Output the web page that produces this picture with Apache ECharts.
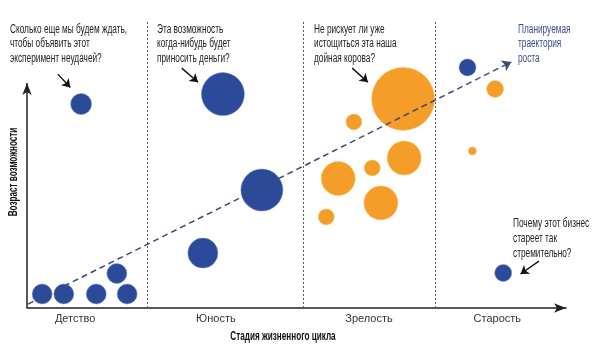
<!DOCTYPE html>
<html>
<head>
<meta charset="utf-8">
<script src="https://cdn.jsdelivr.net/npm/echarts@6/dist/echarts.min.js"></script>
<style>html,body{margin:0;padding:0;background:#fff}#c{width:600px;height:359px}</style>
</head>
<body>
<div id="c"></div>
<script>
// Stages of the life cycle (category labels) and their label positions on the stage axis
const stages = ['Детство', 'Юность', 'Зрелость', 'Старость'];
const stageLabelPos = [8.9, 34.9, 63.2, 86.9];
const stageBounds = [22.2, 51.0, 75.4];

// Blue bubbles (x = stage position, y = age of opportunity, size)
const blueX    = [2.8, 6.8, 12.8, 18.5, 16.6, 10.0, 36.2, 43.4, 32.5, 81.4, 88.0];
const blueY    = [6.1, 6.1, 6.1, 6.1, 15.0, 88.7, 93.0, 51.3, 23.9, 104.6, 15.2];
const blueSize = [20, 20, 20, 20, 20, 21, 43, 42, 30, 17, 17];

// Orange bubbles
const orangeX    = [69.5, 60.4, 69.7, 57.5, 63.8, 65.4, 55.3, 86.5, 82.3];
const orangeY    = [90.9, 80.9, 65.2, 56.3, 60.9, 45.7, 39.6, 95.2, 68.3];
const orangeSize = [63, 16, 34, 34, 16, 34, 16, 17, 8];

// Planned growth trajectory (start, end)
const trendStart = [0.2, 1.7];
const trendEnd   = [89.5, 107.0];

// Callout arrows [from, to]
const callouts = [
  [[5.7, 101.7], [8.0, 95.9]],
  [[28.6, 104.3], [31.6, 98.2]],
  [[60.1, 104.3], [63.0, 98.2]],
  [[94.6, 20.4], [91.2, 14.8]]
];

const notes = [
  'Сколько еще мы будем ждать,\nчтобы объявить этот\nэксперимент неудачей?',
  'Эта возможность\nкогда-нибудь будет\nприносить деньги?',
  'Не рискует ли уже\nистощиться эта наша\nдойная корова?',
  'Планируемая\nтраектория\nроста',
  'Почему этот бизнес\nстареет так\nстремительно?'
];

const FONT = "'Liberation Sans',Arial,sans-serif";
const NOTE_SCALE = 0.69;
const TITLE_SCALE = 0.68;
const zip = (xs, ys, ss) => xs.map((x, i) => [x, ys[i], ss[i]]);

const chart = echarts.init(document.getElementById('c'), null, {renderer: 'canvas'});

const note = (text, x, y, color, lh) => ({
  type: 'text', x: x, y: y, scaleX: NOTE_SCALE,
  style: {text: text, font: '12px ' + FONT, fill: color, lineHeight: lh, verticalAlign: 'top'}
});

chart.setOption({
  animation: false,
  grid: {left: 27, right: 34, top: 18, bottom: 51},
  xAxis: {
    type: 'value', min: 0, max: 99.6,
    splitLine: {show: false},
    axisTick: {show: false},
    axisLine: {lineStyle: {color: '#222', width: 1.5}, symbol: ['none', 'arrow'], symbolSize: [7, 12]},
    axisLabel: {
      customValues: stageLabelPos,
      margin: 5,
      color: '#333', fontSize: 11, fontFamily: FONT,
      formatter: v => {
        let best = 0;
        stageLabelPos.forEach((p, i) => { if (Math.abs(p - v) < Math.abs(stageLabelPos[best] - v)) best = i; });
        return stages[best];
      }
    }
  },
  yAxis: {
    type: 'value', min: 0, max: 126.1,
    splitLine: {show: false},
    axisTick: {show: false},
    axisLabel: {show: false},
    axisLine: {show: false}
  },
  series: [
    {
      // y axis line with arrow (only up to the value range of the axis)
      type: 'line', data: [], clip: false, silent: true,
      markLine: {
        silent: true, symbol: ['none', 'arrow'], label: {show: false},
        lineStyle: {color: '#222', width: 1.5, type: 'solid'},
        data: [[{coord: [0, 0]}, {coord: [0, 97.8], symbol: 'arrow', symbolSize: [7, 12]}]]
      }
    },
    {
      type: 'line', data: [], clip: false, silent: true,
      markLine: {
        silent: true, symbol: ['none', 'none'], label: {show: false},
        lineStyle: {color: '#555', width: 1, type: [2, 2]},
        data: stageBounds.map(b => [{coord: [b, 0]}, {coord: [b, 125.2]}])
      }
    },
    {
      type: 'line', data: [], clip: false, silent: true,
      markLine: {
        silent: true, symbol: ['none', 'arrow'], symbolSize: 9, label: {show: false},
        lineStyle: {color: '#3d4a78', width: 1.5, type: [6, 4]},
        data: [[{coord: trendStart}, {coord: trendEnd}]]
      }
    },
    {
      name: 'blue', type: 'scatter', clip: false,
      data: zip(blueX, blueY, blueSize),
      symbolSize: v => v[2],
      itemStyle: {color: '#2b4a9a', opacity: 1, borderColor: 'rgba(120,140,200,0.5)', borderWidth: 1}
    },
    {
      name: 'orange', type: 'scatter', clip: false,
      data: zip(orangeX, orangeY, orangeSize),
      symbolSize: v => v[2],
      itemStyle: {color: '#f49d28', opacity: 1, borderColor: 'rgba(250,200,120,0.6)', borderWidth: 1}
    },
    {
      type: 'line', data: [], clip: false, silent: true,
      markLine: {
        silent: true, symbol: ['none', 'arrow'], symbolSize: 8, label: {show: false},
        lineStyle: {color: '#111', width: 1.4, type: 'solid'},
        data: callouts.map(c => [{coord: c[0]}, {coord: c[1]}])
      }
    }
  ],
  graphic: [
    note(notes[0], 10, 22, '#222', 14.5),
    note(notes[1], 157, 22, '#222', 14.5),
    note(notes[2], 314, 22, '#222', 14.5),
    note(notes[3], 518, 22, '#3b4d8f', 14.5),
    note(notes[4], 513, 216, '#222', 15),
    {type: 'text', x: 283, y: 337, scaleX: TITLE_SCALE, style: {text: 'Стадия жизненного цикла', font: 'bold 12px ' + FONT, fill: '#111', align: 'center', verticalAlign: 'middle'}},
    {type: 'text', x: 14, y: 172, rotation: Math.PI / 2, scaleX: TITLE_SCALE, style: {text: 'Возраст возможности', font: 'bold 12px ' + FONT, fill: '#111', align: 'center', verticalAlign: 'middle'}}
  ]
});
</script>
</body>
</html>
